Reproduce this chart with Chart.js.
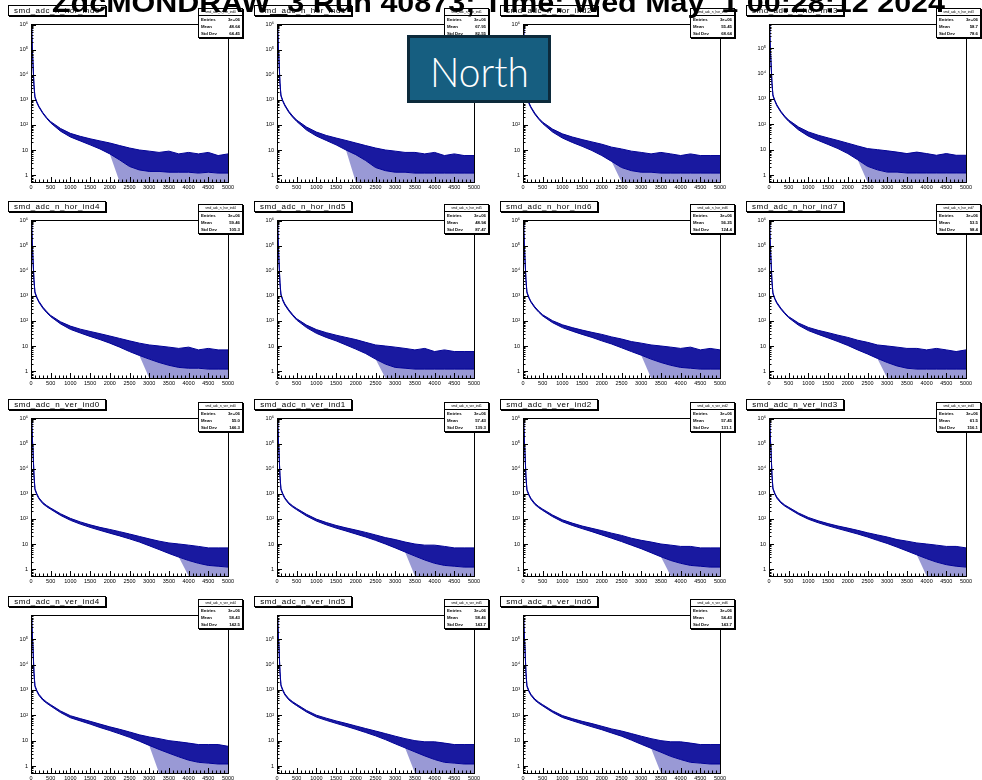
<!DOCTYPE html>
<html>
<head>
<meta charset="utf-8">
<script src="https://cdn.jsdelivr.net/npm/chart.js@4.4.1/dist/chart.umd.min.js"></script>
<style>
html, body { margin: 0; padding: 0; background: #fff; }
#wrap { position: relative; width: 982px; height: 780px; overflow: hidden; background: #fff; font-family: "Liberation Sans", Arial, sans-serif; }
.pad { position: absolute; width: 246px; height: 197px; }
.htitle { position: absolute; box-sizing: border-box; height: 11px; width: 98px; border: 1px solid #000; background: #fff; box-shadow: 1px 1px 0 #000; font-size: 8px; line-height: 9px; text-align: center; white-space: nowrap; letter-spacing: 0.5px; z-index: 2; }
.stats { position: absolute; box-sizing: border-box; width: 45px; height: 30px; border: 1px solid #000; background: #fff; box-shadow: 1px 1px 0 #000; z-index: 2; font-weight: bold; }
.stats .hd { height: 6px; border-bottom: 1px solid #000; font-size: 3.2px; line-height: 6px; text-align: center; white-space: nowrap; overflow: hidden; font-weight: normal; }
.stats .row { height: 7px; font-size: 4.3px; line-height: 7px; padding: 0 2px; display: flex; justify-content: space-between; }
#title { position: absolute; top: -10px; left: 52px; font-weight: bold; font-size: 27px; line-height: 27px; white-space: pre; transform-origin: 0 0; z-index: 3; }
#north { position: absolute; left: 407px; top: 35px; width: 144px; height: 68px; box-sizing: border-box; background: #165e80; border: 3px solid #0c2a3b; z-index: 4; }
#north span { position: absolute; color: #fff; font-family: Lato, "Liberation Sans", sans-serif; font-weight: 300; font-size: 41px; line-height: 41px; white-space: pre; transform-origin: 0 0; }
</style>
</head>
<body>
<div id="wrap">
  <div id="title">ZdcMONDRAW_3 Run 40873; Time: Wed May  1 00:28:12 2024</div>
  <div id="north"><span>North</span></div>
</div>
<script>
const xs = [0, 10, 25, 50, 75, 100, 150, 200, 300, 400, 500, 750, 1000, 1250, 1500, 1750, 2000, 2250, 2500, 2750, 3000, 3250, 3500, 3750, 4000, 4250, 4500, 4750, 5000];

const names = ['smd_adc_n_hor_ind0', 'smd_adc_n_hor_ind1', 'smd_adc_n_hor_ind2', 'smd_adc_n_hor_ind3',
  'smd_adc_n_hor_ind4', 'smd_adc_n_hor_ind5', 'smd_adc_n_hor_ind6', 'smd_adc_n_hor_ind7',
  'smd_adc_n_ver_ind0', 'smd_adc_n_ver_ind1', 'smd_adc_n_ver_ind2', 'smd_adc_n_ver_ind3',
  'smd_adc_n_ver_ind4', 'smd_adc_n_ver_ind5', 'smd_adc_n_ver_ind6'];
const entries = ['3e+06', '3e+06', '3e+06', '3e+06', '3e+06', '3e+06', '3e+06', '3e+06',
  '3e+06', '3e+06', '3e+06', '3e+06', '3e+06', '3e+06', '3e+06'];
const means = ['48.64', '67.95', '55.45', '58.7', '59.46', '48.94', '56.25', '53.5',
  '55.0', '57.43', '57.45', '61.5', '58.43', '58.46', '54.43'];
const stdDevs = ['64.45', '82.55', '68.64', '78.6', '105.3', '87.47', '124.4', '98.4',
  '146.3', '139.3', '131.1', '156.1', '142.5', '143.7', '143.7'];

// upper / lower edge of the noisy band, per histogram
const hor0Hi = [2e5, 9e5, 4e5, 3e4, 4e3, 1350, 820, 560, 310, 195, 135, 72, 46, 35, 28, 23, 19, 15, 12, 10, 9, 8, 9, 7, 8, 7, 8, 6, 7];
const hor0Lo = [2e5, 8.5e5, 3.7e5, 2.7e4, 3.6e3, 1220, 750, 510, 285, 178, 120, 56, 33, 23, 16, 11, 7, 4, 2.2, 1.6, 1.4, 1.4, 1.3, 1.3, 1.3, 1.2, 1.3, 1.2, 1.2];
const hor1Hi = [2.5e5, 9.5e5, 5e5, 4e4, 5e3, 1550, 920, 630, 350, 225, 155, 82, 52, 38, 30, 24, 19, 15, 12, 10, 9, 8, 8, 7, 8, 6, 7, 6, 6];
const hor1Lo = [2.5e5, 9e5, 4.5e5, 3.6e4, 4.4e3, 1400, 840, 570, 315, 200, 138, 62, 36, 24, 16, 10, 6.5, 3.8, 2, 1.5, 1.3, 1.3, 1.2, 1.2, 1.2, 1.2, 1.2, 1.2, 1.2];
const hor2Hi = [2e5, 9e5, 4e5, 3e4, 4e3, 1280, 780, 530, 295, 185, 128, 68, 44, 33, 26, 21, 17, 13, 11, 9, 8, 7, 8, 7, 6, 7, 6, 6, 6];
const hor2Lo = [2e5, 8.5e5, 3.6e5, 2.7e4, 3.6e3, 1150, 710, 480, 265, 168, 113, 52, 30, 20, 14, 9.5, 6, 3.5, 2, 1.5, 1.3, 1.3, 1.2, 1.2, 1.2, 1.2, 1.2, 1.2, 1.2];
const hor3Hi = [2e5, 8e5, 3.5e5, 3e4, 4.5e3, 1450, 880, 590, 330, 210, 146, 78, 50, 37, 29, 23, 18, 14, 11, 10, 9, 8, 7, 8, 7, 6, 7, 6, 6];
const hor3Lo = [2e5, 7.5e5, 3.2e5, 2.7e4, 4e3, 1300, 800, 530, 300, 190, 130, 60, 34, 23, 16, 11, 7, 4, 2.2, 1.6, 1.3, 1.3, 1.2, 1.2, 1.2, 1.2, 1.2, 1.2, 1.2];
const hor4Hi = [2e5, 9e5, 4e5, 3e4, 4.5e3, 1450, 880, 610, 355, 235, 165, 92, 62, 47, 38, 31, 25, 20, 16, 13, 11, 10, 9, 8, 9, 7, 8, 7, 7];
const hor4Lo = [2e5, 8.5e5, 3.6e5, 2.7e4, 4e3, 1300, 800, 550, 320, 210, 148, 76, 46, 33, 24, 18, 13, 9, 6, 4.2, 3, 2.2, 1.7, 1.4, 1.3, 1.3, 1.2, 1.2, 1.2];
const hor5Hi = [2e5, 9e5, 4e5, 2.5e4, 3.5e3, 1180, 690, 475, 278, 178, 122, 68, 45, 34, 27, 22, 18, 14, 11, 10, 9, 8, 7, 8, 6, 7, 6, 6, 6];
const hor5Lo = [2e5, 8.5e5, 3.6e5, 2.3e4, 3.1e3, 1060, 620, 425, 250, 160, 108, 54, 32, 22, 16, 11, 7.5, 5, 3, 1.9, 1.4, 1.3, 1.2, 1.2, 1.2, 1.2, 1.2, 1.2, 1.2];
const hor6Hi = [2e5, 8.5e5, 3.8e5, 3e4, 4.5e3, 1450, 880, 610, 365, 245, 175, 102, 70, 54, 43, 35, 29, 23, 19, 15, 13, 11, 10, 9, 8, 9, 7, 8, 7];
const hor6Lo = [2e5, 8e5, 3.4e5, 2.7e4, 4e3, 1300, 800, 555, 330, 222, 157, 85, 54, 39, 29, 22, 16, 12, 8.5, 6, 4.3, 3, 2.2, 1.7, 1.4, 1.3, 1.2, 1.2, 1.2];
const hor7Hi = [2e5, 8e5, 3.5e5, 2.8e4, 4e3, 1320, 790, 550, 325, 212, 148, 82, 55, 42, 34, 27, 22, 17, 14, 11, 10, 9, 8, 8, 7, 8, 7, 6, 7];
const hor7Lo = [2e5, 7.5e5, 3.2e5, 2.5e4, 3.6e3, 1190, 715, 495, 295, 192, 133, 67, 41, 29, 21, 15, 10.5, 7, 4.8, 3.2, 2.2, 1.6, 1.3, 1.2, 1.2, 1.2, 1.2, 1.2, 1.2];
const ver0Hi = [2e5, 9e5, 5e5, 6e4, 6e3, 1600, 1000, 700, 450, 340, 270, 160, 105, 76, 58, 46, 38, 31, 25, 20, 16, 13, 11, 10, 9, 8, 7, 7, 7];
const ver0Lo = [2e5, 8.5e5, 4.6e5, 5.4e4, 5.4e3, 1450, 900, 630, 405, 305, 242, 138, 88, 62, 46, 35, 27, 21, 16, 12, 8.5, 6, 4.2, 3, 2.2, 1.7, 1.4, 1.3, 1.2];
const ver1Hi = [2e5, 9e5, 5e5, 5e4, 5.5e3, 1600, 1000, 700, 440, 330, 260, 152, 98, 72, 55, 44, 36, 29, 23, 18, 15, 12, 10, 9, 9, 8, 7, 7, 7];
const ver1Lo = [2e5, 8.5e5, 4.6e5, 4.5e4, 5e3, 1450, 900, 630, 395, 295, 232, 130, 82, 58, 43, 33, 25, 19, 14, 10, 7, 4.8, 3.3, 2.3, 1.7, 1.4, 1.3, 1.2, 1.2];
const ver2Hi = [2e5, 9e5, 4.6e5, 4.5e4, 5e3, 1500, 950, 670, 420, 310, 245, 143, 92, 68, 52, 42, 34, 27, 22, 17, 14, 12, 10, 9, 8, 8, 7, 7, 7];
const ver2Lo = [2e5, 8.5e5, 4.2e5, 4.1e4, 4.5e3, 1350, 855, 600, 378, 278, 218, 123, 77, 55, 41, 31, 23, 17, 12.5, 9, 6.5, 4.5, 3.1, 2.2, 1.7, 1.4, 1.3, 1.2, 1.2];
const ver3Hi = [2e5, 9e5, 5e5, 6e4, 6e3, 1700, 1050, 740, 480, 360, 290, 172, 114, 84, 65, 52, 43, 35, 28, 23, 19, 15, 13, 11, 10, 9, 8, 8, 7];
const ver3Lo = [2e5, 8.5e5, 4.6e5, 5.4e4, 5.4e3, 1530, 945, 665, 432, 324, 260, 150, 97, 70, 53, 41, 32, 25, 19, 14, 10.5, 7.5, 5.3, 3.7, 2.6, 1.9, 1.5, 1.3, 1.2];
const ver4Hi = [1.5e5, 7e5, 4e5, 5e4, 5e3, 1500, 950, 680, 440, 330, 260, 148, 96, 74, 58, 45, 35, 28, 22, 17, 14, 12, 10, 9, 8, 7, 7, 7, 6];
const ver4Lo = [1.5e5, 6.5e5, 3.6e5, 4.5e4, 4.5e3, 1350, 855, 612, 396, 297, 232, 128, 80, 60, 45, 33, 25, 18.5, 13.5, 9.5, 6.5, 4.5, 3.2, 2.3, 1.7, 1.4, 1.3, 1.2, 1.2];
const ver5Hi = [1.5e5, 7e5, 4e5, 5e4, 5.5e3, 1600, 1000, 700, 450, 340, 270, 155, 101, 77, 60, 48, 38, 30, 24, 19, 15, 12, 10, 9, 9, 8, 7, 7, 7];
const ver5Lo = [1.5e5, 6.5e5, 3.6e5, 4.5e4, 5e3, 1450, 900, 630, 405, 305, 240, 135, 85, 63, 48, 37, 28, 21, 15.5, 11, 7.5, 5.2, 3.6, 2.5, 1.8, 1.4, 1.3, 1.2, 1.2];
const ver6Hi = [1.5e5, 7e5, 3.8e5, 4.5e4, 5e3, 1500, 950, 680, 440, 330, 262, 150, 97, 74, 58, 47, 37, 29, 24, 19, 15, 12, 10, 9, 9, 8, 7, 7, 7];
const ver6Lo = [1.5e5, 6.5e5, 3.4e5, 4.1e4, 4.5e3, 1350, 855, 612, 396, 297, 234, 131, 82, 61, 46, 35, 27, 20, 15, 10.5, 7.2, 5, 3.5, 2.4, 1.8, 1.4, 1.3, 1.2, 1.2];

// ADC above which empty bins show up (line drops to the bottom of the frame)
const zeroFrom = [2250, 2000, 2300, 2300, 3000, 2600, 3200, 2800, 3800, 3500, 3600, 4000, 3100, 3500, 3500];
const yMax = [1.05e6, 1.05e6, 1.05e6, 9e5, 1.05e6, 1.05e6, 1.05e6, 1.05e6, 1.05e6, 1.05e6, 1.05e6, 1.05e6, 9e5, 9e5, 9e5];
const yMin = 0.53;

const highs = [hor0Hi, hor1Hi, hor2Hi, hor3Hi, hor4Hi, hor5Hi, hor6Hi, hor7Hi, ver0Hi, ver1Hi, ver2Hi, ver3Hi, ver4Hi, ver5Hi, ver6Hi];
const lows = [hor0Lo, hor1Lo, hor2Lo, hor3Lo, hor4Lo, hor5Lo, hor6Lo, hor7Lo, ver0Lo, ver1Lo, ver2Lo, ver3Lo, ver4Lo, ver5Lo, ver6Lo];

const decadeLabels = {1: '1', 10: '10', 100: '10\u00b2', 1000: '10\u00b3', 10000: '10\u2074', 100000: '10\u2075', 1000000: '10\u2076'};

const rowTops = [24, 220, 418, 615];
const colW = 246;
const plotL = 31, plotR = 228, plotH = 158;
const lineBlue = '#000096';

// ROOT style frame with inward ticks
const rootFrame = {
  id: 'rootFrame',
  afterDraw(chart) {
    const { ctx, chartArea: a, scales: { x, y } } = chart;
    ctx.save();
    ctx.strokeStyle = '#000';
    ctx.lineWidth = 1;
    ctx.strokeRect(Math.round(a.left) + 0.5, Math.round(a.top) + 0.5, Math.round(a.right - a.left), Math.round(a.bottom - a.top));
    ctx.beginPath();
    for (let v = 0; v <= 5000; v += 100) {
      const px = Math.round(x.getPixelForValue(v)) + 0.5;
      ctx.moveTo(px, a.bottom);
      ctx.lineTo(px, a.bottom - (v % 500 === 0 ? 5 : 2.5));
    }
    for (let d = -1; d <= 6; d++) {
      for (let m = 1; m <= 9; m++) {
        const v = m * Math.pow(10, d);
        if (v < y.min || v > y.max) continue;
        const py = Math.round(y.getPixelForValue(v)) + 0.5;
        ctx.moveTo(a.left, py);
        ctx.lineTo(a.left + (m === 1 ? 5 : 2.5), py);
      }
    }
    ctx.stroke();
    ctx.restore();
  }
};

const wrap = document.getElementById('wrap');

names.forEach((name, i) => {
  const r = Math.floor(i / 4), c = i % 4;
  const top = rowTops[r];
  const left = c * colW;

  const pad = document.createElement('div');
  pad.className = 'pad';
  pad.style.left = left + 'px';
  pad.style.top = (top - 24) + 'px';
  const cv = document.createElement('canvas');
  cv.width = colW; cv.height = 197;
  pad.appendChild(cv);
  wrap.appendChild(pad);

  const t = document.createElement('div');
  t.className = 'htitle';
  t.textContent = name;
  t.style.left = (left + 8) + 'px';
  t.style.top = (top - 19) + 'px';
  wrap.appendChild(t);

  const s = document.createElement('div');
  s.className = 'stats';
  s.style.left = (left + plotR - 30) + 'px';
  s.style.top = (top - 16) + 'px';
  s.innerHTML = '<div class="hd">' + name + '</div>' +
    '<div class="row"><span>Entries</span><span>' + entries[i] + '</span></div>' +
    '<div class="row"><span>Mean</span><span>' + means[i] + '</span></div>' +
    '<div class="row"><span>Std Dev</span><span>' + stdDevs[i] + '</span></div>';
  wrap.appendChild(s);

  const hi = highs[i], lo = lows[i];
  const hiPts = xs.map((x, k) => ({ x: x, y: hi[k] }));
  const loPts = xs.map((x, k) => ({ x: x, y: lo[k] }));
  const floorPts = xs.map((x, k) => ({ x: x, y: x >= zeroFrom[i] ? yMin : lo[k] }));

  new Chart(cv.getContext('2d'), {
    type: 'line',
    data: {
      datasets: [
        { data: hiPts, borderColor: lineBlue, borderWidth: 1, pointRadius: 0, fill: false },
        { data: loPts, borderColor: lineBlue, borderWidth: 1, pointRadius: 0, fill: '-1', backgroundColor: 'rgba(0,0,150,0.9)' },
        { data: floorPts, borderColor: 'rgba(0,0,0,0)', borderWidth: 0, pointRadius: 0, fill: '-1', backgroundColor: 'rgba(0,0,150,0.4)' }
      ]
    },
    options: {
      responsive: false,
      animation: false,
      events: [],
      layout: { padding: { left: 0, right: colW - plotR, top: 24, bottom: 0 } },
      plugins: { legend: { display: false }, tooltip: { enabled: false } },
      scales: {
        x: {
          type: 'linear', min: 0, max: 5000,
          afterFit(sc) { sc.height = 197 - 24 - plotH; },
          grid: { display: false, drawTicks: false },
          border: { display: false },
          ticks: { stepSize: 500, autoSkip: false, maxRotation: 0, padding: 2, color: '#000',
            font: { size: 5.5, family: 'Liberation Sans' }, callback: v => String(v) }
        },
        y: {
          type: 'logarithmic', min: yMin, max: yMax[i],
          afterFit(sc) { sc.width = plotL; },
          afterBuildTicks(sc) {
            sc.ticks = Object.keys(decadeLabels).map(Number).filter(v => v >= sc.min && v <= sc.max).map(v => ({ value: v }));
          },
          grid: { display: false, drawTicks: false },
          border: { display: false },
          ticks: { padding: 3, color: '#000', font: { size: 5.5, family: 'Liberation Sans' },
            callback: v => decadeLabels[v] || '' }
        }
      }
    },
    plugins: [rootFrame]
  });
});

// fit the big title and the North label to their width in the picture
const title = document.getElementById('title');
title.style.transform = 'scaleX(' + (893 / title.getBoundingClientRect().width) + ')';
const ns = document.querySelector('#north span');
const nw = ns.getBoundingClientRect().width;
ns.style.transform = 'scaleX(' + (99 / nw) + ')';
ns.style.left = (72 - 99 / 2 - 3) + 'px';
ns.style.top = (47 - 41 * 0.8 - 3 + 2) + 'px';
</script>
</body>
</html>
